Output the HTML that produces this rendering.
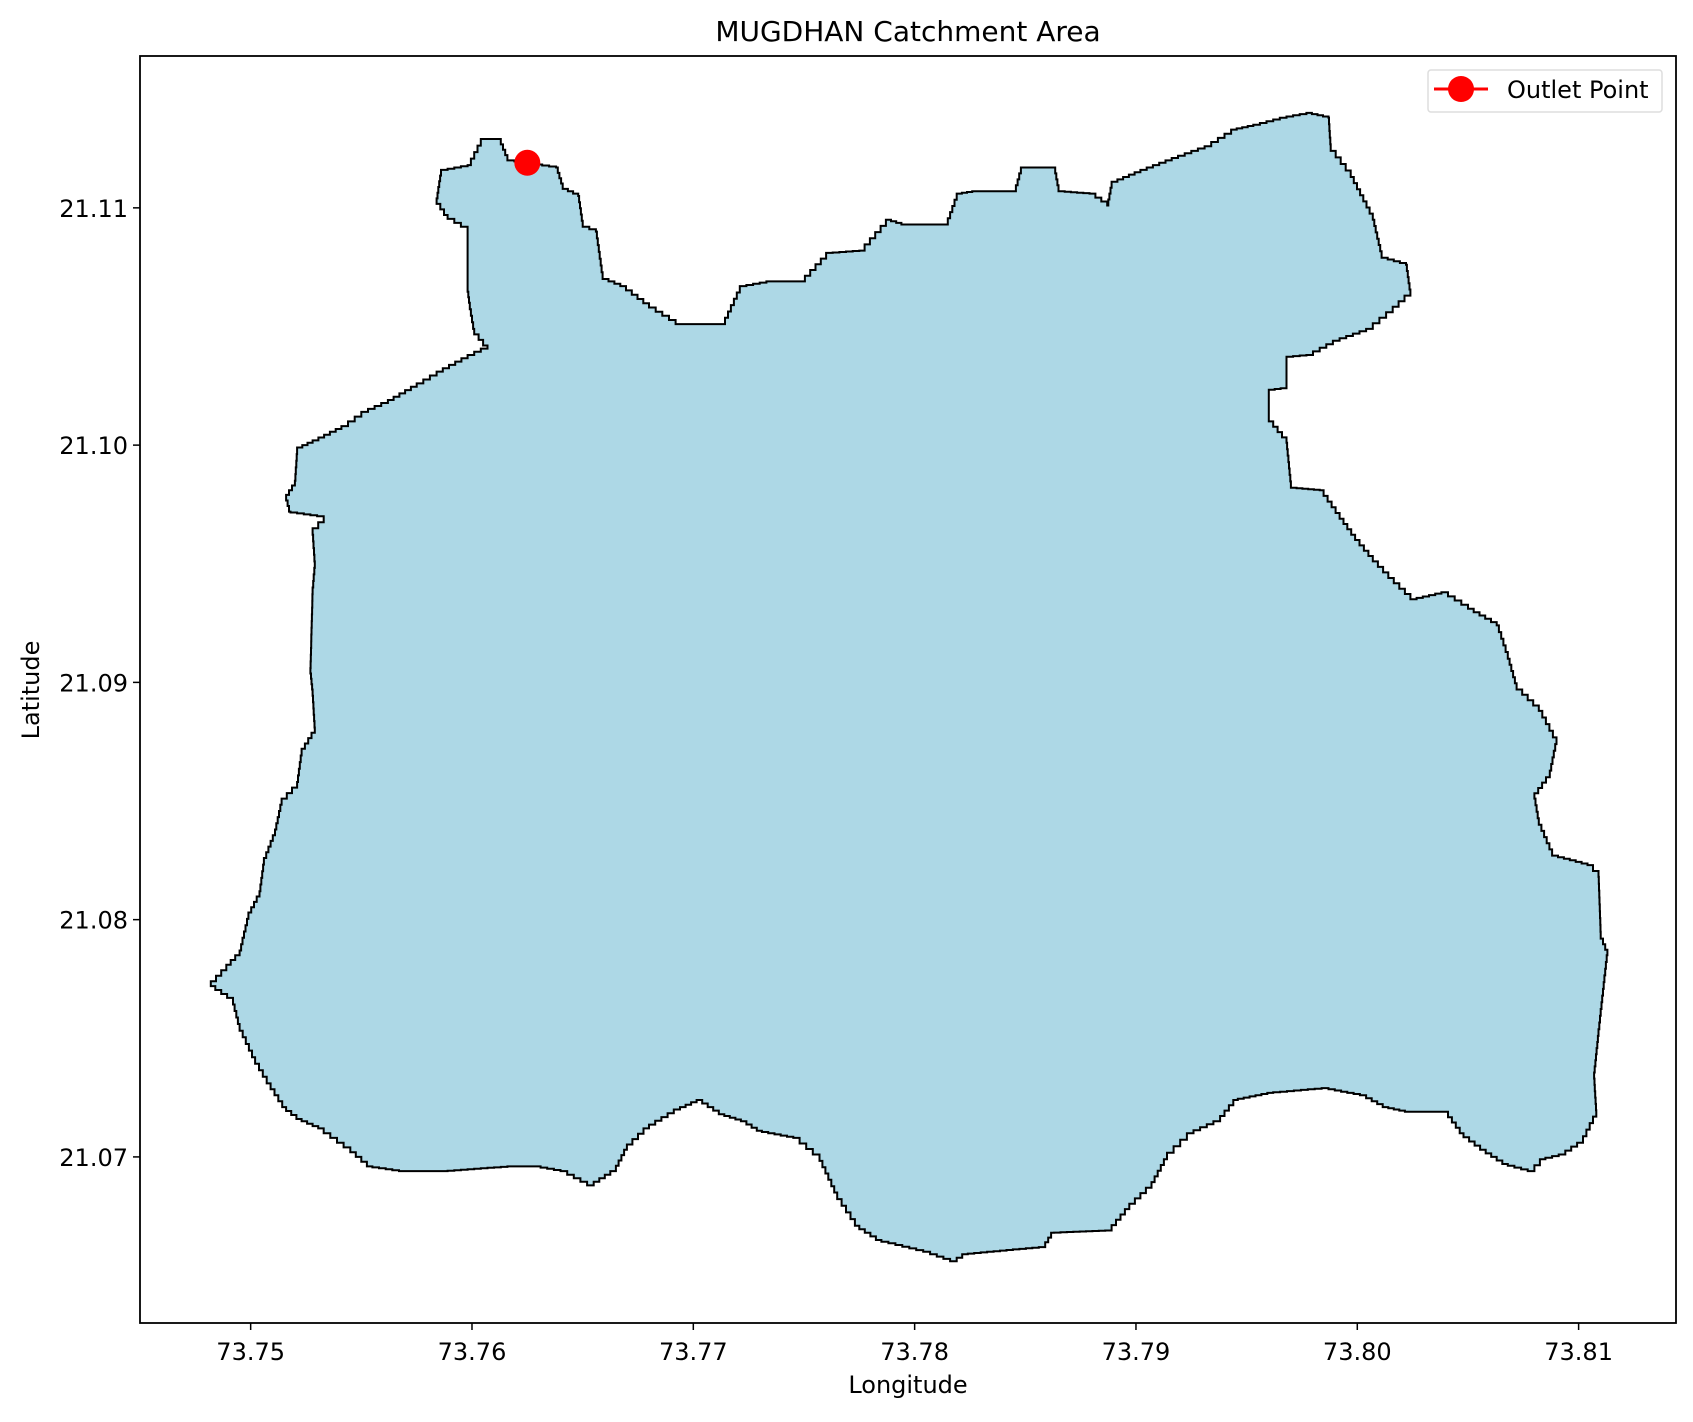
<!DOCTYPE html>
<html><head><meta charset="utf-8"><style>
html,body{margin:0;padding:0;background:#fff;}
svg text{font-family:"DejaVu Sans","Liberation Sans",sans-serif;fill:#000;}
</style></head><body>
<svg id="chart" width="1693" height="1417" viewBox="0 0 1693 1417" xmlns="http://www.w3.org/2000/svg">
<rect width="1693" height="1417" fill="#fff"/>
<text x="908" y="41" font-size="28" text-anchor="middle">MUGDHAN Catchment Area</text>
<g id="plot"></g>
<rect x="140" y="56" width="1536" height="1267" fill="none" stroke="#000" stroke-width="1.8"/>
<g id="axes"></g>
<text x="908" y="1393" font-size="24" text-anchor="middle">Longitude</text>
<text transform="translate(39,690) rotate(-90)" font-size="24" text-anchor="middle">Latitude</text>
<g>
<rect x="1428" y="70" width="234" height="42" rx="3" fill="#fff" stroke="#ddd" stroke-width="1.5"/>
<line x1="1434" y1="89" x2="1488" y2="89" stroke="#f00" stroke-width="3"/>
<circle cx="1461" cy="89" r="13" fill="#f00"/>
<text x="1507" y="98" font-size="24">Outlet Point</text>
</g>
</svg>
<script>
const lons=[73.7586,73.7598,73.7604,73.7612,73.7616,73.7638,73.7641,73.7648,73.7650,73.7656,73.7659,73.7667,73.7680,73.7692,73.7713,73.7721,73.7733,73.7748,73.7760,73.7775,73.7787,73.7794,73.7814,73.7819,73.7826,73.7845,73.7848,73.7863,73.7865,73.7879,73.7887,73.7889,73.7902,73.7919,73.7931,73.7943,73.7953,73.7965,73.7977,73.7987,73.7988,73.7997,73.8007,73.8011,73.8022,73.8024,73.8016,73.8007,73.7992,73.7980,73.7968,73.7968,73.7960,73.7960,73.7968,73.7970,73.7983,73.7992,73.7999,73.8007,73.8014,73.8024,73.8038,73.8050,73.8063,73.8068,73.8072,73.8082,73.8090,73.8087,73.8080,73.8082,73.8088,73.8104,73.8109,73.8110,73.8113,73.8109,73.8107,73.8108,73.8102,73.8094,73.8085,73.8080,73.8068,73.8058,73.8048,73.8041,73.8024,73.8014,73.8004,73.7987,73.7962,73.7946,73.7938,73.7926,73.7914,73.7907,73.7897,73.7889,73.7863,73.7859,73.7824,73.7819,73.7807,73.7785,73.7775,73.7765,73.7757,73.7748,73.7731,73.7724,73.7714,73.7704,73.7694,73.7680,73.7670,73.7665,73.7655,73.7643,73.7631,73.7619,73.7589,73.7570,73.7555,73.7545,73.7533,73.7523,73.7516,73.7509,73.7502,73.7495,73.7492,73.7484,73.7482,73.7489,73.7495,73.7499,73.7504,73.7506,73.7511,73.7514,73.7521,73.7523,73.7529,73.7528,73.7527,73.7528,73.7529,73.7528,73.7533,73.7518,73.7516,73.7520,73.7521,73.7528,73.7541,73.7550,73.7562,73.7575,73.7584,73.7598,73.7607,73.7601,73.7599,73.7598,73.7598,73.7589,73.7584];
const lats=[21.1116,21.1118,21.1129,21.1129,21.1120,21.1117,21.1108,21.1105,21.1092,21.1090,21.1070,21.1067,21.1058,21.1051,21.1051,21.1067,21.1069,21.1069,21.1081,21.1082,21.1095,21.1093,21.1093,21.1106,21.1107,21.1107,21.1117,21.1117,21.1107,21.1106,21.1101,21.1111,21.1116,21.1122,21.1126,21.1133,21.1135,21.1138,21.1140,21.1138,21.1124,21.1113,21.1095,21.1079,21.1076,21.1063,21.1056,21.1049,21.1044,21.1038,21.1037,21.1024,21.1023,21.1010,21.1001,21.0982,21.0981,21.0969,21.0960,21.0951,21.0944,21.0935,21.0938,21.0931,21.0924,21.0910,21.0897,21.0888,21.0874,21.0860,21.0851,21.0840,21.0827,21.0823,21.0818,21.0792,21.0785,21.0751,21.0733,21.0717,21.0706,21.0701,21.0699,21.0694,21.0697,21.0703,21.0710,21.0719,21.0719,21.0721,21.0726,21.0729,21.0727,21.0724,21.0715,21.0710,21.0699,21.0687,21.0678,21.0669,21.0668,21.0662,21.0659,21.0656,21.0660,21.0665,21.0671,21.0685,21.0701,21.0708,21.0711,21.0715,21.0718,21.0724,21.0720,21.0712,21.0703,21.0694,21.0688,21.0694,21.0696,21.0696,21.0694,21.0694,21.0696,21.0704,21.0712,21.0716,21.0721,21.0731,21.0742,21.0756,21.0767,21.0772,21.0774,21.0781,21.0787,21.0803,21.0812,21.0826,21.0838,21.0851,21.0858,21.0872,21.0881,21.0897,21.0906,21.0940,21.0951,21.0965,21.0970,21.0972,21.0979,21.0985,21.0999,21.1002,21.1008,21.1014,21.1019,21.1026,21.1031,21.1038,21.1042,21.1049,21.1060,21.1067,21.1092,21.1097,21.1104];
const outletLon=[73.7625];
const outletLat=[21.1119];
const xTicks=[73.75,73.76,73.77,73.78,73.79,73.80,73.81];
const xTickLabels=["73.75","73.76","73.77","73.78","73.79","73.80","73.81"];
const yTicks=[21.07,21.08,21.09,21.10,21.11];
const yTickLabels=["21.07","21.08","21.09","21.10","21.11"];

const NS='http://www.w3.org/2000/svg';
const X0=140,X1=1676,Y0=56,Y1=1323;
const xMin=73.745,xMax=73.8144,yMin=21.063,yMax=21.1164;
function sx(v){return X0+(v-xMin)/(xMax-xMin)*(X1-X0);}
function sy(v){return Y1-(v-yMin)/(yMax-yMin)*(Y1-Y0);}
function mk(t,a,parent){const e=document.createElementNS(NS,t);for(const k in a)e.setAttribute(k,a[k]);parent.appendChild(e);return e;}

const plot=document.getElementById('plot');
let pts=[];
for(let i=0;i<lons.length;i++){
  const j=(i+1)%lons.length;
  const x1=sx(lons[i]),y1=sy(lats[i]),x2=sx(lons[j]),y2=sy(lats[j]);
  const n=Math.max(1,Math.ceil(Math.max(Math.abs(x2-x1),Math.abs(y2-y1))/7));
  let cx=x1,cy=y1;pts.push([cx,cy]);
  for(let k=1;k<=n;k++){
    const nx=x1+(x2-x1)*k/n,ny=y1+(y2-y1)*k/n;
    pts.push([nx,cy]);pts.push([nx,ny]);cx=nx;cy=ny;
  }
}
const poly=mk('polygon',{points:pts.map(p=>p[0].toFixed(1)+','+p[1].toFixed(1)).join(' '),fill:'#add8e6',stroke:'#000','stroke-width':2,'stroke-linejoin':'miter'},plot);


for(let i=0;i<outletLon.length;i++){
  const c=mk('circle',{cx:sx(outletLon[i]),cy:sy(outletLat[i]),r:13,fill:'#f00'},plot);
  
  
}
const axes=document.getElementById('axes');
xTicks.forEach((v,i)=>{
  const x=sx(v);
  const t=mk('line',{x1:x,y1:Y1,x2:x,y2:Y1+7,stroke:'#000','stroke-width':1.5},axes);
  
  
  const l=mk('text',{x:x,y:Y1+37,'font-size':24,'text-anchor':'middle'},axes);
  l.textContent=xTickLabels[i];
  
  
});
yTicks.forEach((v,i)=>{
  const y=sy(v);
  const t=mk('line',{x1:X0-7,y1:y,x2:X0,y2:y,stroke:'#000','stroke-width':1.5},axes);
  
  
  const l=mk('text',{x:X0-12,y:y+9,'font-size':24,'text-anchor':'end'},axes);
  l.textContent=yTickLabels[i];
  
  
});
</script>
</body></html>
